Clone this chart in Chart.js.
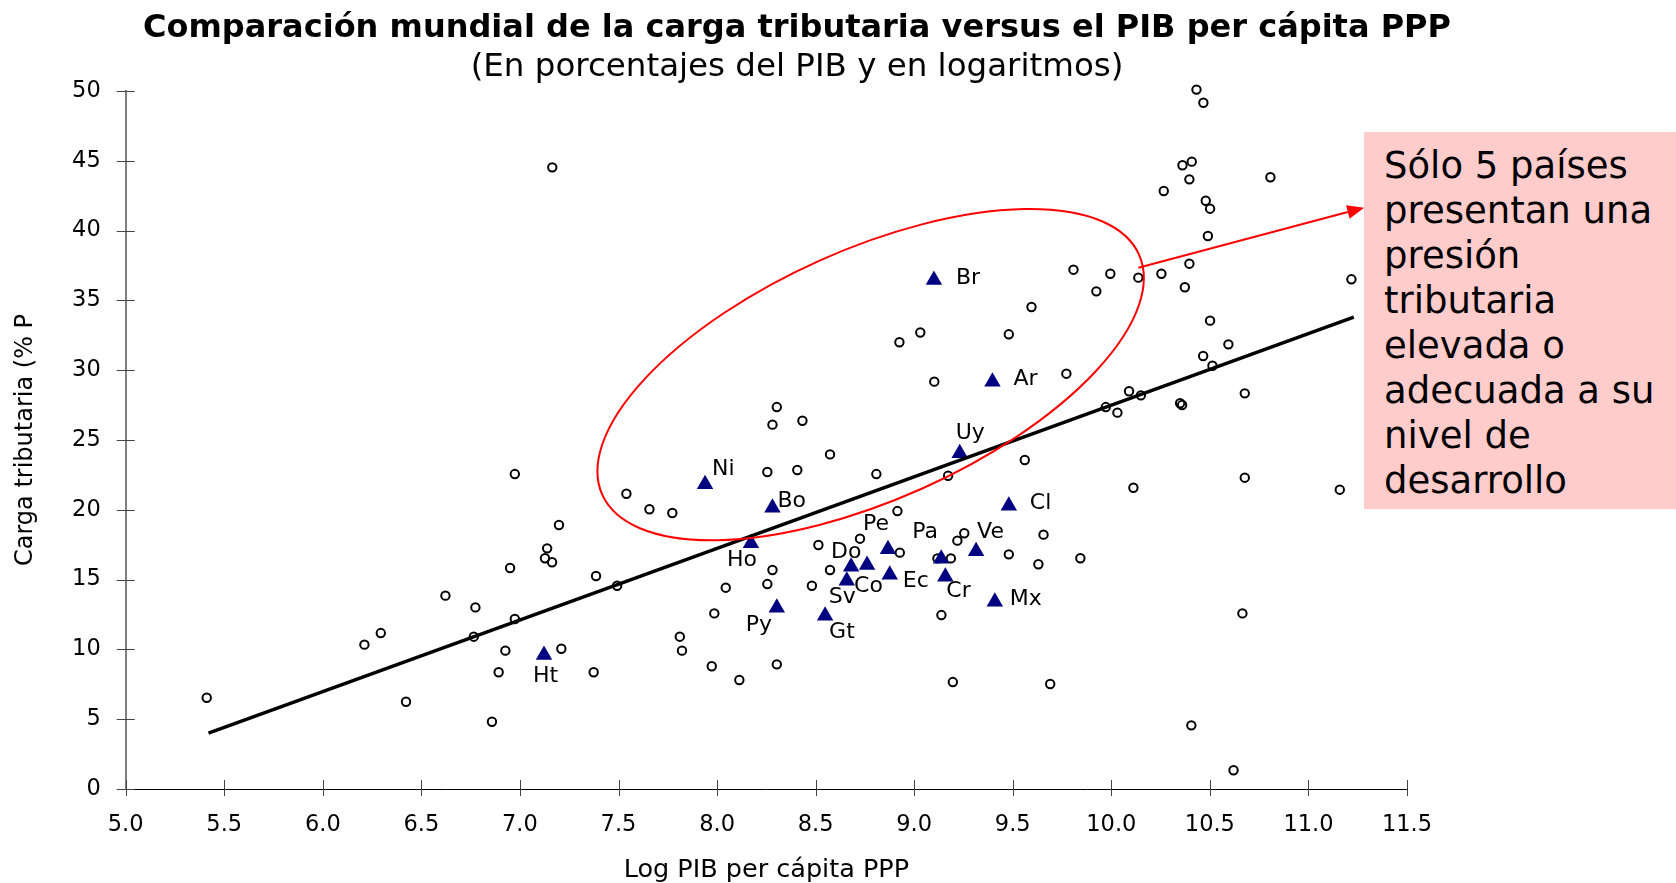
<!DOCTYPE html>
<html>
<head>
<meta charset="utf-8">
<script src="https://cdn.jsdelivr.net/npm/chart.js@4.4.1/dist/chart.umd.min.js"></script>
<style>
  html, body { margin: 0; padding: 0; background: #fff; overflow: hidden; }
  #wrap { position: relative; width: 1676px; height: 883px; }
  #note {
    position: absolute; left: 1364px; top: 132px; width: 312px; height: 377px;
    background: #ffcccc; box-sizing: border-box; padding: 11px 0 0 20px;
    font-family: "DejaVu Sans", Verdana, sans-serif; font-size: 37px; line-height: 45px;
    color: #000; white-space: pre;
  }
</style>
</head>
<body>
<div id="wrap">
  <canvas id="chart" width="1676" height="883"></canvas>
  <div id="note">Sólo 5 países
presentan una
presión
tributaria
elevada o
adecuada a su
nivel de
desarrollo</div>
</div>
<script>
// ── Data ──────────────────────────────────────────────────────────────────────
// Resto del mundo (círculos)
const otherX = [
  7.164, 8.925, 9.031, 9.102, 8.303, 8.281, 8.433,
  10.432, 10.467, 10.408, 10.361, 10.396, 10.266, 10.807, 10.479, 10.501, 10.490,
  9.808, 9.995, 10.137, 10.254, 10.396, 9.924, 10.373, 11.218, 9.595, 9.480,
  10.501, 10.594, 10.466, 10.513, 9.772, 10.677, 10.090, 10.150, 9.972, 10.031,
  10.349, 10.359,
  7.540, 7.657, 7.773, 7.198, 7.138, 7.127, 7.163, 7.386, 7.493,
  8.255, 8.407, 8.573, 8.808, 9.172, 8.915, 8.514, 8.725, 8.927, 9.254, 9.219,
  9.118, 9.186, 8.281, 8.255, 8.044, 8.481, 8.573, 7.986, 7.811, 7.822, 7.973,
  8.113, 8.303, 7.210, 7.374, 9.138, 9.196,
  9.561, 10.112, 10.677, 11.159, 9.656, 9.480, 9.630, 9.843, 10.665, 9.690,
  10.406, 10.620,
  6.974, 6.950, 6.622, 6.774, 6.974, 6.294, 6.211, 6.766, 6.926, 6.892,
  5.411, 6.422, 6.858,
];
const otherY = [
  44.53, 32.00, 32.70, 29.18, 27.36, 26.10, 26.38,
  50.10, 49.16, 44.94, 44.68, 43.67, 42.84, 43.82, 42.14, 41.57, 39.61,
  37.20, 36.91, 36.63, 36.91, 37.63, 35.65, 35.94, 36.51, 34.53, 32.57,
  33.55, 31.85, 31.02, 30.32, 29.75, 28.34, 28.49, 28.20, 27.36, 26.96,
  27.63, 27.51,
  21.15, 20.04, 19.77, 18.91, 17.24, 16.53, 16.24, 15.26, 14.56,
  22.71, 22.85, 23.97, 22.56, 22.44, 19.91, 17.48, 17.93, 16.93, 18.32, 17.79,
  16.52, 16.52, 15.69, 14.68, 14.42, 14.56, 15.69, 12.58, 10.91, 9.91, 8.79,
  7.81, 8.93, 10.05, 8.36, 12.46, 7.66,
  23.57, 21.58, 22.30, 21.44, 18.22, 16.81, 16.10, 16.53, 12.58, 7.52,
  4.56, 1.34,
  22.56, 15.83, 13.85, 13.01, 12.18, 11.17, 10.34, 10.91, 9.91, 8.36,
  6.54, 6.25, 4.82,
];

// América Latina (triángulos)
const latamCodes = ['Br', 'Ar', 'Uy', 'Ni', 'Bo', 'Cl', 'Ho', 'Pe', 'Ve', 'Pa',
                    'Do', 'Co', 'Sv', 'Ec', 'Cr', 'Mx', 'Py', 'Gt', 'Ht'];
const latamX = [9.100, 9.397, 9.231, 7.939, 8.281, 9.480, 8.172, 8.867, 9.314, 9.137,
                8.680, 8.761, 8.658, 8.876, 9.158, 9.409, 8.303, 8.548, 7.122];
const latamY = [36.46, 29.18, 24.05, 21.83, 20.15, 20.29, 17.60, 17.17, 17.03, 16.50,
                15.92, 16.05, 14.92, 15.35, 15.21, 13.42, 12.99, 12.41, 9.60];

// Línea de tendencia
const trendX = [5.42, 11.23];
const trendY = [4.0, 33.8];

// Ejes
const xMin = 5, xMax = 11.5, xStep = 0.5;
const yMin = 0, yMax = 50, yStep = 5;

// ── Label placement / annotations (pixels, not data) ─────────────────────────
const LABEL_OFFSET = {
  Br: [22, -3], Ar: [21, -3], Uy: [-4, -21], Ni: [7, -16], Bo: [5, -7], Cl: [21, -3],
  Ho: [-24, 16], Pe: [-25, -26], Ve: [1, -20], Pa: [-29, -27], Do: [-20, -15],
  Co: [-13, 20], Sv: [-18, 16], Ec: [13, 6], Cr: [1, 14], Mx: [15, -3],
  Py: [-31, 17], Gt: [4, 16], Ht: [-11, 20],
};
const ELLIPSE = { cx: 8.779, cy: 29.68, rx: 294, ry: 125, rot: -24.1 };
const ARROW   = { x0: 10.137, y0: 37.34, x1: 11.283, y1: 41.64 };

const FONT = '"DejaVu Sans", Verdana, sans-serif';
Chart.defaults.font.family = FONT;
Chart.defaults.color = '#000';

const decor = {
  id: 'decor',
  beforeDatasetsDraw(chart) {
    // tick marks crossing both axes
    const { ctx, scales: { x, y } } = chart;
    ctx.save();
    ctx.strokeStyle = '#444';
    ctx.lineWidth = 1;
    ctx.beginPath();
    y.ticks.forEach(t => {
      const py = Math.round(y.getPixelForValue(t.value)) + 0.5;
      ctx.moveTo(x.left - 9, py); ctx.lineTo(x.left + 9, py);
    });
    x.ticks.forEach(t => {
      const px = Math.round(x.getPixelForValue(t.value)) + 0.5;
      ctx.moveTo(px, y.bottom - 9); ctx.lineTo(px, y.bottom + 7);
    });
    ctx.stroke();
    ctx.restore();
  },
  afterDatasetsDraw(chart) {
    const { ctx, scales: { x, y } } = chart;
    ctx.save();

    // country labels
    ctx.fillStyle = '#000';
    ctx.font = '22px ' + FONT;
    ctx.textAlign = 'left';
    ctx.textBaseline = 'middle';
    latamCodes.forEach((c, i) => {
      const [dx, dy] = LABEL_OFFSET[c];
      ctx.fillText(c, x.getPixelForValue(latamX[i]) + dx, y.getPixelForValue(latamY[i]) + dy + 1);
    });

    // red ellipse
    ctx.strokeStyle = '#ff0000';
    ctx.lineWidth = 2;
    ctx.beginPath();
    ctx.ellipse(x.getPixelForValue(ELLIPSE.cx), y.getPixelForValue(ELLIPSE.cy),
                ELLIPSE.rx, ELLIPSE.ry, ELLIPSE.rot * Math.PI / 180, 0, Math.PI * 2);
    ctx.stroke();

    // arrow to note
    const ax0 = x.getPixelForValue(ARROW.x0), ay0 = y.getPixelForValue(ARROW.y0);
    const ax1 = x.getPixelForValue(ARROW.x1), ay1 = y.getPixelForValue(ARROW.y1);
    const ang = Math.atan2(ay1 - ay0, ax1 - ax0);
    const hl = 17, hw = 7;
    const bx = ax1 - Math.cos(ang) * hl, by = ay1 - Math.sin(ang) * hl;
    ctx.beginPath();
    ctx.moveTo(ax0, ay0); ctx.lineTo(bx, by);
    ctx.stroke();
    ctx.fillStyle = '#ff0000';
    ctx.beginPath();
    ctx.moveTo(ax1, ay1);
    ctx.lineTo(bx - Math.sin(ang) * hw, by + Math.cos(ang) * hw);
    ctx.lineTo(bx + Math.sin(ang) * hw, by - Math.cos(ang) * hw);
    ctx.closePath();
    ctx.fill();
    ctx.restore();
  },
  afterDraw(chart) {
    const { ctx } = chart;
    ctx.save();
    ctx.fillStyle = '#000';
    ctx.textAlign = 'center';
    ctx.textBaseline = 'alphabetic';
    ctx.font = 'bold 32px ' + FONT;
    ctx.fillText('Comparación mundial de la carga tributaria versus el PIB per cápita PPP', 797, 37);
    ctx.font = '32.5px ' + FONT;
    ctx.fillText('(En porcentajes del PIB y en logaritmos)', 797, 76);
    ctx.restore();
  },
};

new Chart(document.getElementById('chart'), {
  type: 'scatter',
  data: {
    datasets: [
      {
        label: 'Tendencia',
        data: trendX.map((v, i) => ({ x: v, y: trendY[i] })),
        showLine: true,
        borderColor: '#000',
        borderWidth: 3.5,
        pointRadius: 0,
        order: 0,
      },
      {
        label: 'América Latina',
        data: latamX.map((v, i) => ({ x: v, y: latamY[i] })),
        pointStyle: 'triangle',
        pointRadius: 9.5,
        backgroundColor: '#000080',
        borderColor: '#000080',
        borderWidth: 0,
        clip: false,
        order: 1,
      },
      {
        label: 'Resto del mundo',
        data: otherX.map((v, i) => ({ x: v, y: otherY[i] })),
        pointStyle: 'circle',
        pointRadius: 4.2,
        borderWidth: 2,
        borderColor: '#000',
        backgroundColor: 'rgba(0,0,0,0)',
        clip: false,
        order: 2,
      },
    ],
  },
  options: {
    responsive: false,
    animation: false,
    devicePixelRatio: 1,
    layout: { padding: { top: 91, right: 269, bottom: 0, left: 0 } },
    plugins: {
      legend: { display: false },
      tooltip: { enabled: false },
    },
    scales: {
      x: {
        type: 'linear',
        min: xMin, max: xMax,
        ticks: {
          stepSize: xStep, padding: 23, autoSkip: false, maxRotation: 0,
          font: { size: 22.5 }, color: '#000',
          callback: v => v.toFixed(1),
        },
        grid: { display: false, drawTicks: false },
        border: { display: true, color: '#000', width: 1 },
        title: {
          display: true, text: 'Log PIB per cápita PPP', color: '#000',
          font: { size: 25.5, lineHeight: 1 }, padding: { top: 0, bottom: 0 },
        },
        afterFit: s => { s.height = 94; },
      },
      y: {
        min: yMin, max: yMax,
        ticks: { stepSize: yStep, padding: 25, font: { size: 22.5 }, color: '#000' },
        grid: { display: false, drawTicks: false },
        border: { display: true, color: '#808080', width: 2 },
        title: {
          display: true, text: 'Carga tributaria (% P', color: '#000',
          font: { size: 24 }, padding: { top: 11, bottom: 0 },
        },
        afterFit: s => { s.width = 125.7; },
      },
    },
  },
  plugins: [decor],
});
</script>
</body>
</html>
